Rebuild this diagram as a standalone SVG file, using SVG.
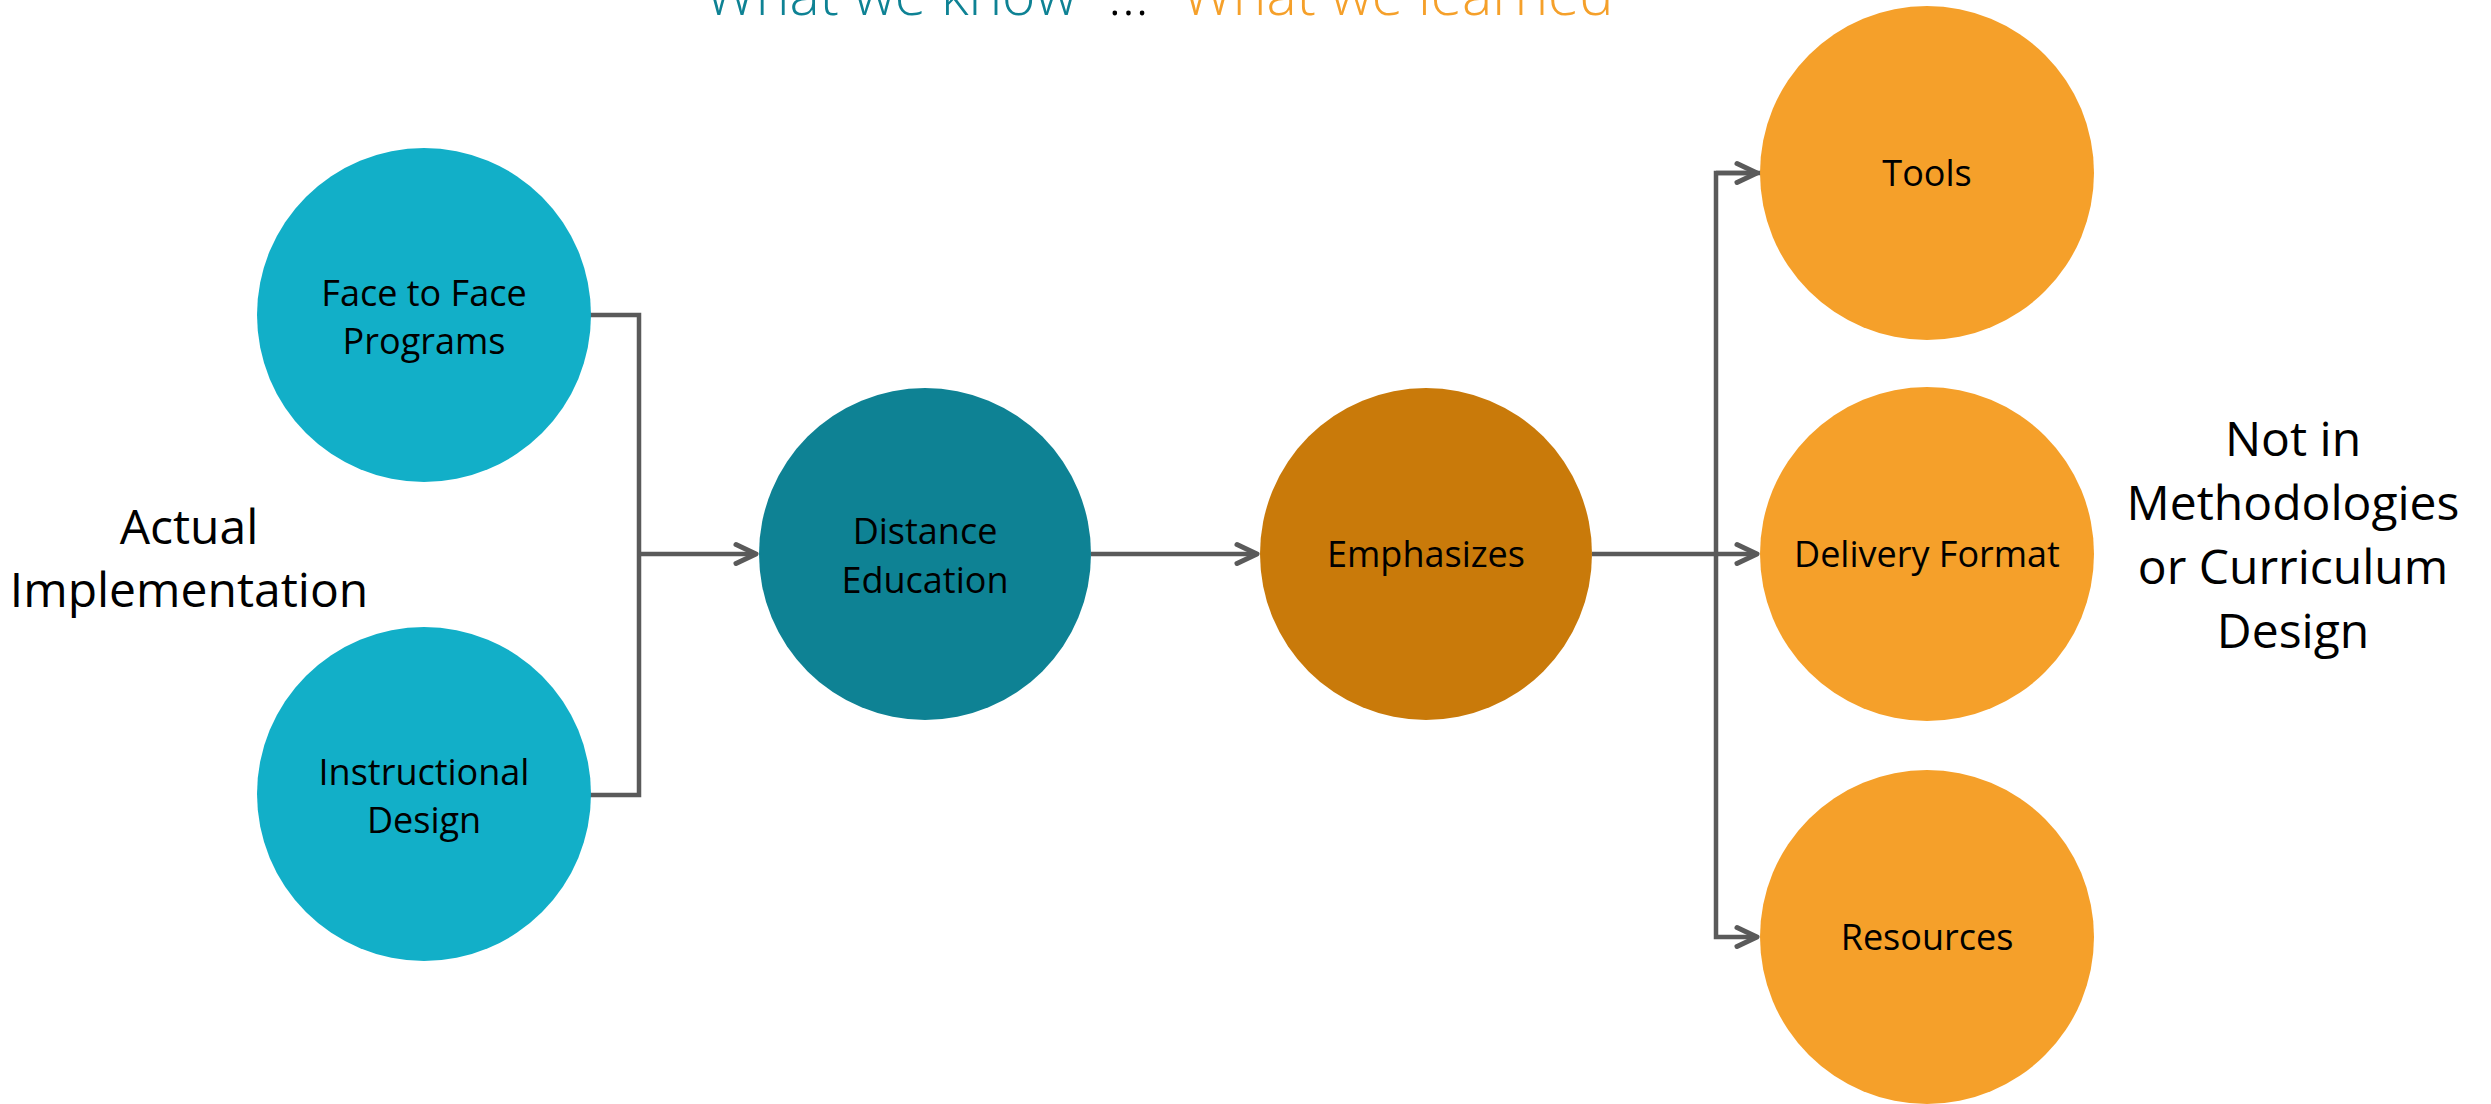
<svg xmlns="http://www.w3.org/2000/svg" width="2491" height="1104" viewBox="0 0 2491 1104">
<style>
.lbl{font-family:"Open Sans","Noto Sans","Liberation Sans",sans-serif;font-size:36px;fill:#000;text-anchor:middle}
.side{font-family:"Open Sans","Noto Sans","Liberation Sans",sans-serif;font-size:48px;fill:#000;text-anchor:middle}
.ttl{font-family:"Open Sans","Noto Sans","Liberation Sans",sans-serif;font-size:57px;font-weight:300}
.c1{fill:#12AFC8}.c2{fill:#0E8294}.c3{fill:#C97A0A}.c4{fill:#F5A02A}
.con{fill:none;stroke:#5A5A5A;stroke-width:4.5}
</style>
<defs>
<marker id="arr" markerWidth="30" markerHeight="30" refX="25" refY="15" orient="auto" markerUnits="userSpaceOnUse" viewBox="0 0 30 30" overflow="visible">
<path d="M5,5.5 L25,15 L5,24.5" fill="none" stroke="#5A5A5A" stroke-width="5" stroke-linecap="round" stroke-linejoin="round"/>
</marker>
</defs>
<rect width="2491" height="1104" fill="#fff"/>
<text class="ttl" y="15"><tspan x="705" fill="#0E8294">What we know</tspan><tspan x="1108" fill="#000">…</tspan><tspan x="1182" fill="#F5A02A">What we learned</tspan></text>
<g id="connectors">
<path class="con" d="M590 315 H639 V795 H590"/>
<path class="con" d="M639 554 H756" marker-end="url(#arr)"/>
<path class="con" d="M1091 554 H1257" marker-end="url(#arr)"/>
<path class="con" d="M1592 554 H1757" marker-end="url(#arr)"/>
<path class="con" d="M1761 173 H1716 V937 H1757" marker-end="url(#arr)"/>
<path class="con" d="M1716 173 H1757" marker-end="url(#arr)"/>
</g>
<g id="face-to-face"><circle class="c1" cx="424" cy="315" r="167"/><text class="lbl" x="424" y="306">Face to Face</text><text class="lbl" x="424" y="354">Programs</text></g>
<g id="instructional-design"><circle class="c1" cx="424" cy="794" r="167"/><text class="lbl" x="424" y="785">Instructional</text><text class="lbl" x="424" y="833">Design</text></g>
<g id="distance-education"><circle class="c2" cx="925" cy="554" r="166"/><text class="lbl" x="925" y="544">Distance</text><text class="lbl" x="925" y="593">Education</text></g>
<g id="emphasizes"><circle class="c3" cx="1426" cy="554" r="166"/><text class="lbl" x="1426" y="567">Emphasizes</text></g>
<g id="tools"><circle class="c4" cx="1927" cy="173" r="167"/><text class="lbl" x="1927" y="186">Tools</text></g>
<g id="delivery-format"><circle class="c4" cx="1927" cy="554" r="167"/><text class="lbl" x="1927" y="567">Delivery Format</text></g>
<g id="resources"><circle class="c4" cx="1927" cy="937" r="167"/><text class="lbl" x="1927" y="950">Resources</text></g>
<g id="actual-implementation"><text class="side" x="189" y="544">Actual</text><text class="side" x="189" y="607">Implementation</text></g>
<g id="not-in-methodologies"><text class="side" x="2293" y="456">Not in</text><text class="side" x="2293" y="520">Methodologies</text><text class="side" x="2293" y="584">or Curriculum</text><text class="side" x="2293" y="648">Design</text></g>
</svg>
